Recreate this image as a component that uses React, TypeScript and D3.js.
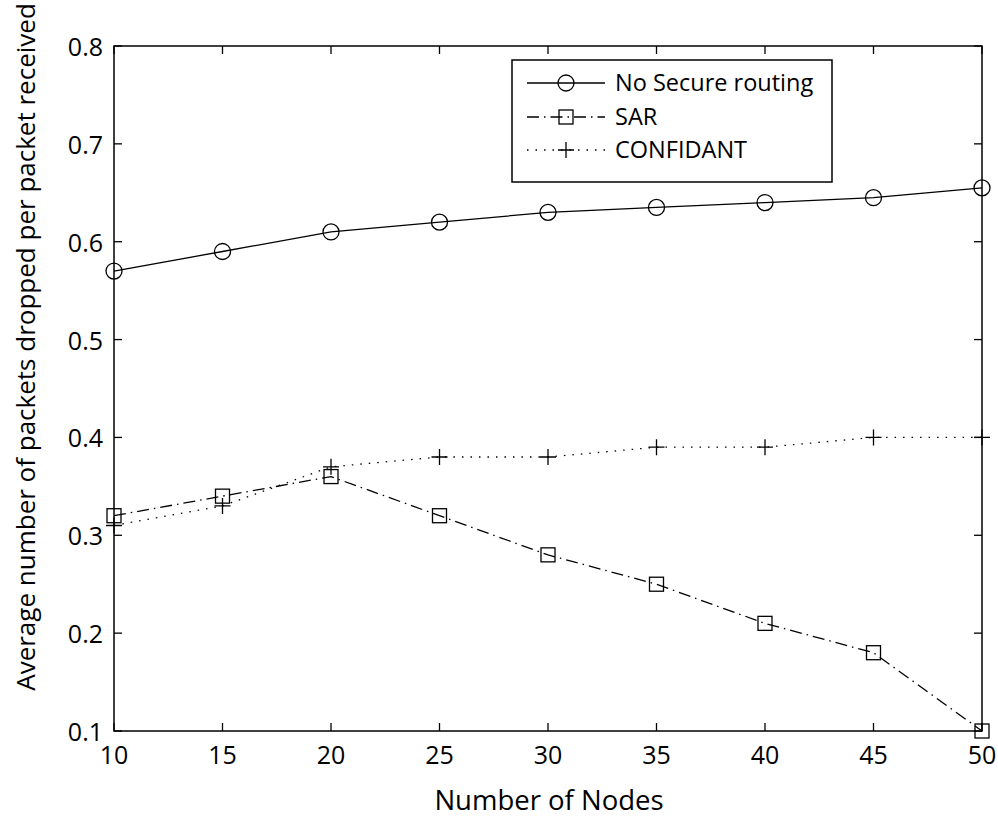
import React from "react";
import * as d3 from "d3";

const nodes = [10, 15, 20, 25, 30, 35, 40, 45, 50];
const noSecure = [0.57, 0.59, 0.61, 0.62, 0.63, 0.635, 0.64, 0.645, 0.655];
const sar = [0.32, 0.34, 0.36, 0.32, 0.28, 0.25, 0.21, 0.18, 0.1];
const confidant = [0.31, 0.33, 0.37, 0.38, 0.38, 0.39, 0.39, 0.4, 0.4];
const xTicks = [10, 15, 20, 25, 30, 35, 40, 45, 50];
const yTicks = [0.1, 0.2, 0.3, 0.4, 0.5, 0.6, 0.7, 0.8];
const seriesNames = ["No Secure routing", "SAR", "CONFIDANT"];

const W = 998, H = 819;
const L = 114, R = 982, T = 46, B = 731;
const FONT = "'Open Sans', sans-serif";

export default function App() {
  const x = d3.scaleLinear().domain([10, 50]).range([L, R]);
  const y = d3.scaleLinear().domain([0.1, 0.8]).range([B, T]);
  const line = d3.line<[number, number]>().x(d => x(d[0])).y(d => y(d[1]));
  const pts = (v: number[]) => nodes.map((n, i) => [n, v[i]] as [number, number]);
  const styles = [
    { dash: "none", marker: "circle" },
    { dash: "12,5,1.5,5", marker: "square" },
    { dash: "1.5,7", marker: "plus" },
  ];
  const data = [noSecure, sar, confidant];
  const marker = (type: string, cx: number, cy: number, key: any) => {
    if (type === "circle") return <circle key={key} cx={cx} cy={cy} r={8} fill="none" stroke="#000" strokeWidth={1.3} />;
    if (type === "square") return <rect key={key} x={cx - 7} y={cy - 7} width={14} height={14} fill="none" stroke="#000" strokeWidth={1.3} />;
    return <path key={key} d={`M${cx - 8},${cy}H${cx + 8}M${cx},${cy - 8}V${cy + 8}`} stroke="#000" strokeWidth={1.3} />;
  };
  const legX = 512, legY = 60, legW = 320, legH = 122;
  const rows = [83, 117, 150];
  return (
    <svg width={W} height={H} style={{ position: "absolute", left: 0, top: 0, background: "#fff" }} fontFamily={FONT}>
      <rect x={0} y={0} width={W} height={H} fill="#fff" />
      {data.map((v, si) => (
        <g key={si}>
          <path d={line(pts(v)) || ""} fill="none" stroke="#000" strokeWidth={1.3} strokeDasharray={styles[si].dash} />
          {pts(v).map((p, i) => marker(styles[si].marker, x(p[0]), y(p[1]), i))}
        </g>
      ))}
      <rect x={L} y={T} width={R - L} height={B - T} fill="none" stroke="#000" strokeWidth={1.5} />
      {xTicks.map(t => (
        <g key={"x" + t}>
          <line x1={x(t)} x2={x(t)} y1={B} y2={B - 8} stroke="#000" strokeWidth={1.3} />
          <line x1={x(t)} x2={x(t)} y1={T} y2={T + 8} stroke="#000" strokeWidth={1.3} />
          <text x={x(t)} y={764} textAnchor="middle" fontSize={25}>{t}</text>
        </g>
      ))}
      {yTicks.map(t => (
        <g key={"y" + t}>
          <line x1={L} x2={L + 8} y1={y(t)} y2={y(t)} stroke="#000" strokeWidth={1.3} />
          <line x1={R} x2={R - 8} y1={y(t)} y2={y(t)} stroke="#000" strokeWidth={1.3} />
          <text x={103} y={y(t) + 10} textAnchor="end" fontSize={25}>{t.toFixed(1)}</text>
        </g>
      ))}
      <text x={549} y={810} textAnchor="middle" fontSize={27.5}>Number of Nodes</text>
      <text transform={`translate(35,347) rotate(-90)`} textAnchor="middle" fontSize={26}>
        Average number of packets dropped per packet received
      </text>
      <rect x={legX} y={legY} width={legW} height={legH} fill="#fff" stroke="#000" strokeWidth={1.5} />
      {seriesNames.map((n, i) => (
        <g key={n}>
          <line x1={527} x2={605} y1={rows[i]} y2={rows[i]} stroke="#000" strokeWidth={1.3} strokeDasharray={styles[i].dash} />
          {marker(styles[i].marker, 566, rows[i], "m")}
          <text x={615} y={rows[i] + 8} fontSize={23.5}>{n}</text>
        </g>
      ))}
    </svg>
  );
}
